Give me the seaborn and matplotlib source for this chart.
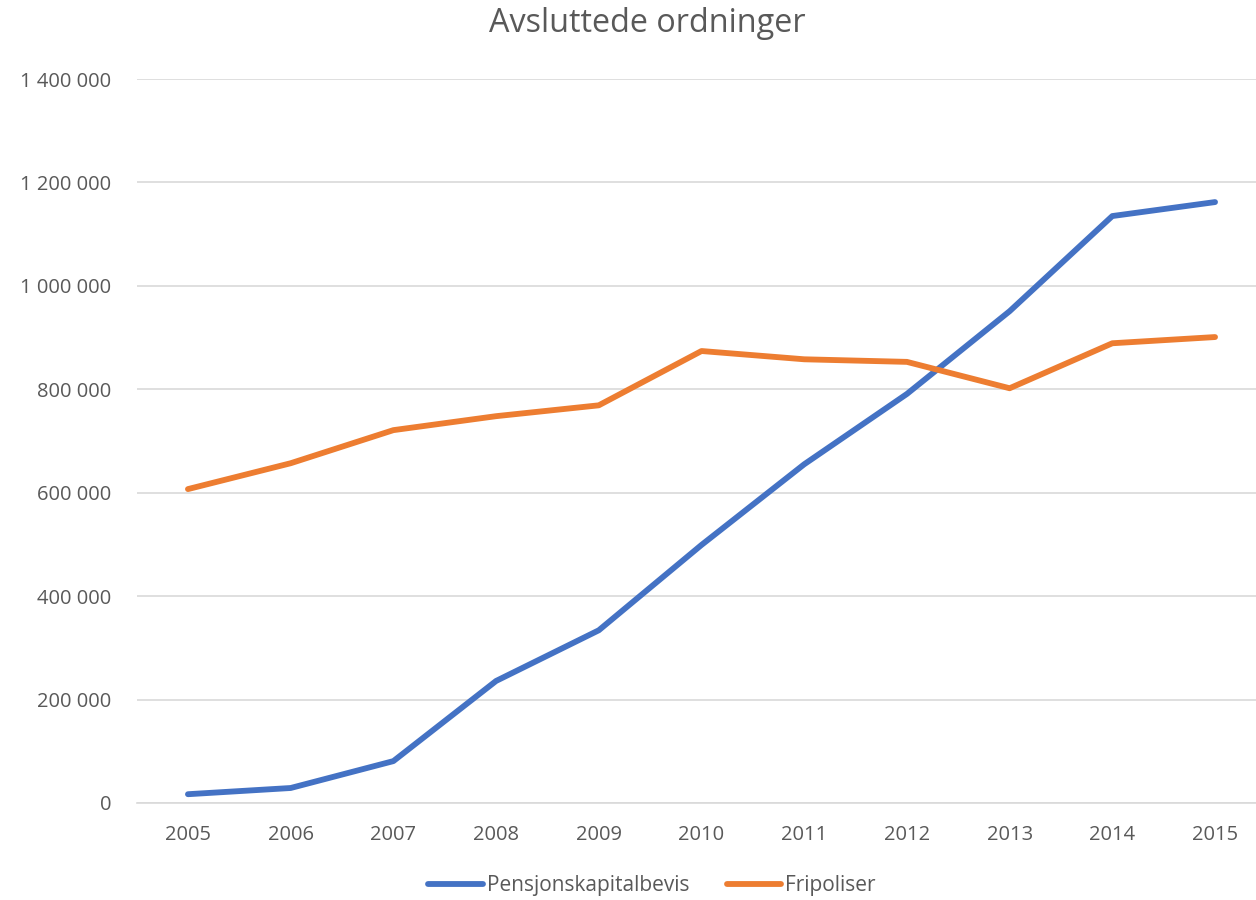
import matplotlib
matplotlib.use("Agg")
import matplotlib.pyplot as plt
import seaborn as sns
import pandas as pd
from matplotlib.ticker import FuncFormatter

years = [2005, 2006, 2007, 2008, 2009, 2010, 2011, 2012, 2013, 2014, 2015]
pensjonskapitalbevis = [17000, 29000, 81000, 236000, 334000, 499000, 655000, 791000, 951000, 1135000, 1162000]
fripoliser = [607000, 657000, 721000, 748000, 769000, 874000, 858000, 853000, 802000, 889000, 901000]
series_names = ["Pensjonskapitalbevis", "Fripoliser"]
title = "Avsluttede ordninger"
yticks = [0, 200000, 400000, 600000, 800000, 1000000, 1200000, 1400000]

df = pd.DataFrame({
    "pos": list(range(len(years))) * 2,
    "value": pensjonskapitalbevis + fripoliser,
    "serie": [series_names[0]] * len(years) + [series_names[1]] * len(years),
})

sns.set_style("white")
plt.rcParams["font.family"] = ["Open Sans", "DejaVu Sans"]
txt = "#595959"

fig = plt.figure(figsize=(12.56, 9), dpi=100)
ax = fig.add_axes([136.6 / 1256, 1 - 803 / 900, (1266.4 - 136.6) / 1256, (803 - 79) / 900])

sns.lineplot(data=df, x="pos", y="value", hue="serie",
             palette={series_names[0]: "#4472C4", series_names[1]: "#ED7D31"},
             linewidth=4.2, ax=ax, solid_capstyle="round", legend=True)

ax.set_xlim(-0.5, len(years) - 0.5)
ax.set_ylim(0, 1400000)
ax.set_xticks(range(len(years)))
ax.set_xticklabels([str(y) for y in years])
ax.set_yticks(yticks)
ax.yaxis.set_major_formatter(FuncFormatter(lambda v, p: f"{int(v):,}".replace(",", " ")))
ax.tick_params(axis="both", length=0, labelsize=14.5, colors=txt)
ax.tick_params(axis="x", pad=16)
ax.tick_params(axis="y", pad=18)
ax.grid(axis="y", color="#D9D9D9", linewidth=1.2)
ax.set_axisbelow(True)
for s in ["top", "right", "left"]:
    ax.spines[s].set_visible(False)
ax.spines["bottom"].set_color("#D9D9D9")
ax.spines["bottom"].set_linewidth(1.2)
ax.set_xlabel("")
ax.set_ylabel("")

fig.text(647 / 1256, 1 - 24 / 900, title, ha="center", va="center", fontsize=23.3, color=txt)

handles, labels = ax.get_legend_handles_labels()
ax.legend(handles, labels, loc="center", frameon=False, ncol=2, fontsize=15, labelcolor=txt,
          handlelength=2.6, handletextpad=0.2, columnspacing=1.8)
leg = ax.get_legend()
leg.set_bbox_to_anchor((652 / 1256, 1 - 886 / 900), transform=fig.transFigure)
for ln in leg.get_lines():
    ln.set_linewidth(4.2)
    ln.set_solid_capstyle("round")

fig.savefig("out.png", dpi=100)
